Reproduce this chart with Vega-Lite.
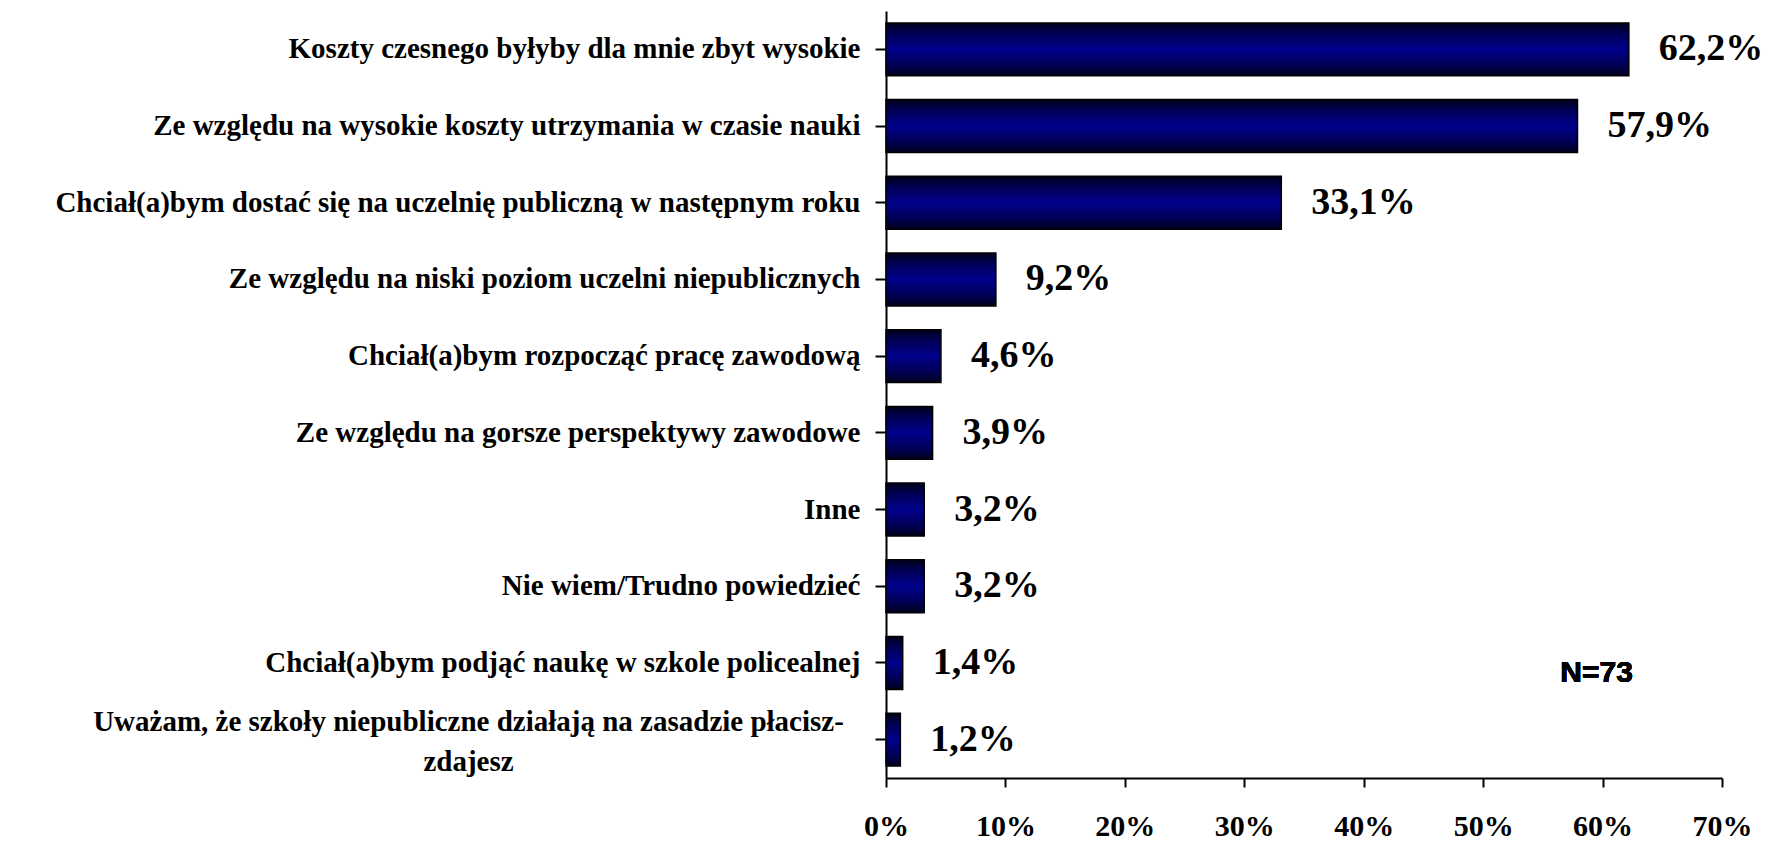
{
  "$schema": "https://vega.github.io/schema/vega-lite/v6.json",
  "autosize": {"type": "none"},
  "width": 836,
  "height": 767,
  "padding": {"left": 886, "top": 11, "right": 58, "bottom": 64},
  "background": "white",
  "config": {
    "view": {"stroke": null},
    "locale": {"number": {"decimal": ",", "thousands": " ", "grouping": [3], "currency": ["", " zł"]}}
  },
  "data": {
    "values": [
      {"reason": "Koszty czesnego byłyby dla mnie zbyt wysokie", "share": 0.622},
      {"reason": "Ze względu na wysokie koszty utrzymania w czasie nauki", "share": 0.579},
      {"reason": "Chciał(a)bym dostać się na uczelnię publiczną w następnym roku", "share": 0.331},
      {"reason": "Ze względu na niski poziom uczelni niepublicznych", "share": 0.092},
      {"reason": "Chciał(a)bym rozpocząć pracę zawodową", "share": 0.046},
      {"reason": "Ze względu na gorsze perspektywy zawodowe", "share": 0.039},
      {"reason": "Inne", "share": 0.032},
      {"reason": "Nie wiem/Trudno powiedzieć", "share": 0.032},
      {"reason": "Chciał(a)bym podjąć naukę w szkole policealnej", "share": 0.014},
      {"reason": "Uważam, że szkoły niepubliczne działają na zasadzie płacisz-zdajesz", "share": 0.012}
    ]
  },
  "layer": [
    {
      "mark": {
        "type": "bar",
        "stroke": "black",
        "strokeWidth": 1.5,
        "fill": {
          "gradient": "linear",
          "x1": 0, "y1": 0, "x2": 0, "y2": 1,
          "stops": [
            {"offset": 0, "color": "#00001a"},
            {"offset": 0.2, "color": "#000055"},
            {"offset": 0.5, "color": "#00008c"},
            {"offset": 0.8, "color": "#000055"},
            {"offset": 1, "color": "#00001a"}
          ]
        }
      },
      "encoding": {
        "y": {
          "field": "reason",
          "type": "nominal",
          "sort": null,
          "scale": {"paddingInner": 0.31, "paddingOuter": 0.155},
          "axis": {
            "title": null,
            "domainColor": "black",
            "domainWidth": 2,
            "tickColor": "black",
            "tickWidth": 2,
            "tickSize": 11,
            "labelFont": "Liberation Serif",
            "labelFontWeight": "bold",
            "labelFontSize": 29,
            "labelColor": "black",
            "labelLimit": 1000,
            "labelLineHeight": 40,
            "labelAlign": {"condition": {"test": "indexof(datum.value, 'Uważam') === 0", "value": "center"}, "value": "right"},
            "labelPadding": {"condition": {"test": "indexof(datum.value, 'Uważam') === 0", "value": 407}, "value": 15},
            "labelOffset": {"condition": {"test": "indexof(datum.value, 'Uważam') === 0", "value": -18}, "value": 0},
            "labelExpr": "indexof(datum.value, 'Uważam') === 0 ? ['Uważam, że szkoły niepubliczne działają na zasadzie płacisz-', 'zdajesz'] : datum.value"
          }
        },
        "x": {
          "field": "share",
          "type": "quantitative",
          "scale": {"domain": [0, 0.7], "nice": false},
          "axis": {
            "title": null,
            "values": [0, 0.1, 0.2, 0.3, 0.4, 0.5, 0.6, 0.7],
            "format": ".0%",
            "grid": false,
            "domainColor": "black",
            "domainWidth": 2,
            "tickColor": "black",
            "tickWidth": 2,
            "tickSize": 9,
            "labelFont": "Liberation Serif",
            "labelFontWeight": "bold",
            "labelFontSize": 30,
            "labelColor": "black",
            "labelPadding": 24,
            "labelFlush": false
          }
        }
      }
    },
    {
      "mark": {
        "type": "text",
        "align": "left",
        "baseline": "middle",
        "dx": 30,
        "font": "Liberation Serif",
        "fontWeight": "bold",
        "fontSize": 38,
        "color": "black"
      },
      "encoding": {
        "y": {"field": "reason", "type": "nominal", "sort": null},
        "x": {"field": "share", "type": "quantitative"},
        "text": {"field": "share", "type": "quantitative", "format": ".1%"}
      }
    },
    {
      "mark": {
        "type": "text",
        "text": "N=73",
        "align": "center",
        "baseline": "middle",
        "dy": 10,
        "font": "Liberation Sans",
        "fontWeight": "bold",
        "fontSize": 30,
        "color": "black"
      },
      "encoding": {
        "x": {"datum": 0.595, "type": "quantitative"},
        "y": {"datum": "Chciał(a)bym podjąć naukę w szkole policealnej", "type": "nominal"}
      }
    }
  ]
}
